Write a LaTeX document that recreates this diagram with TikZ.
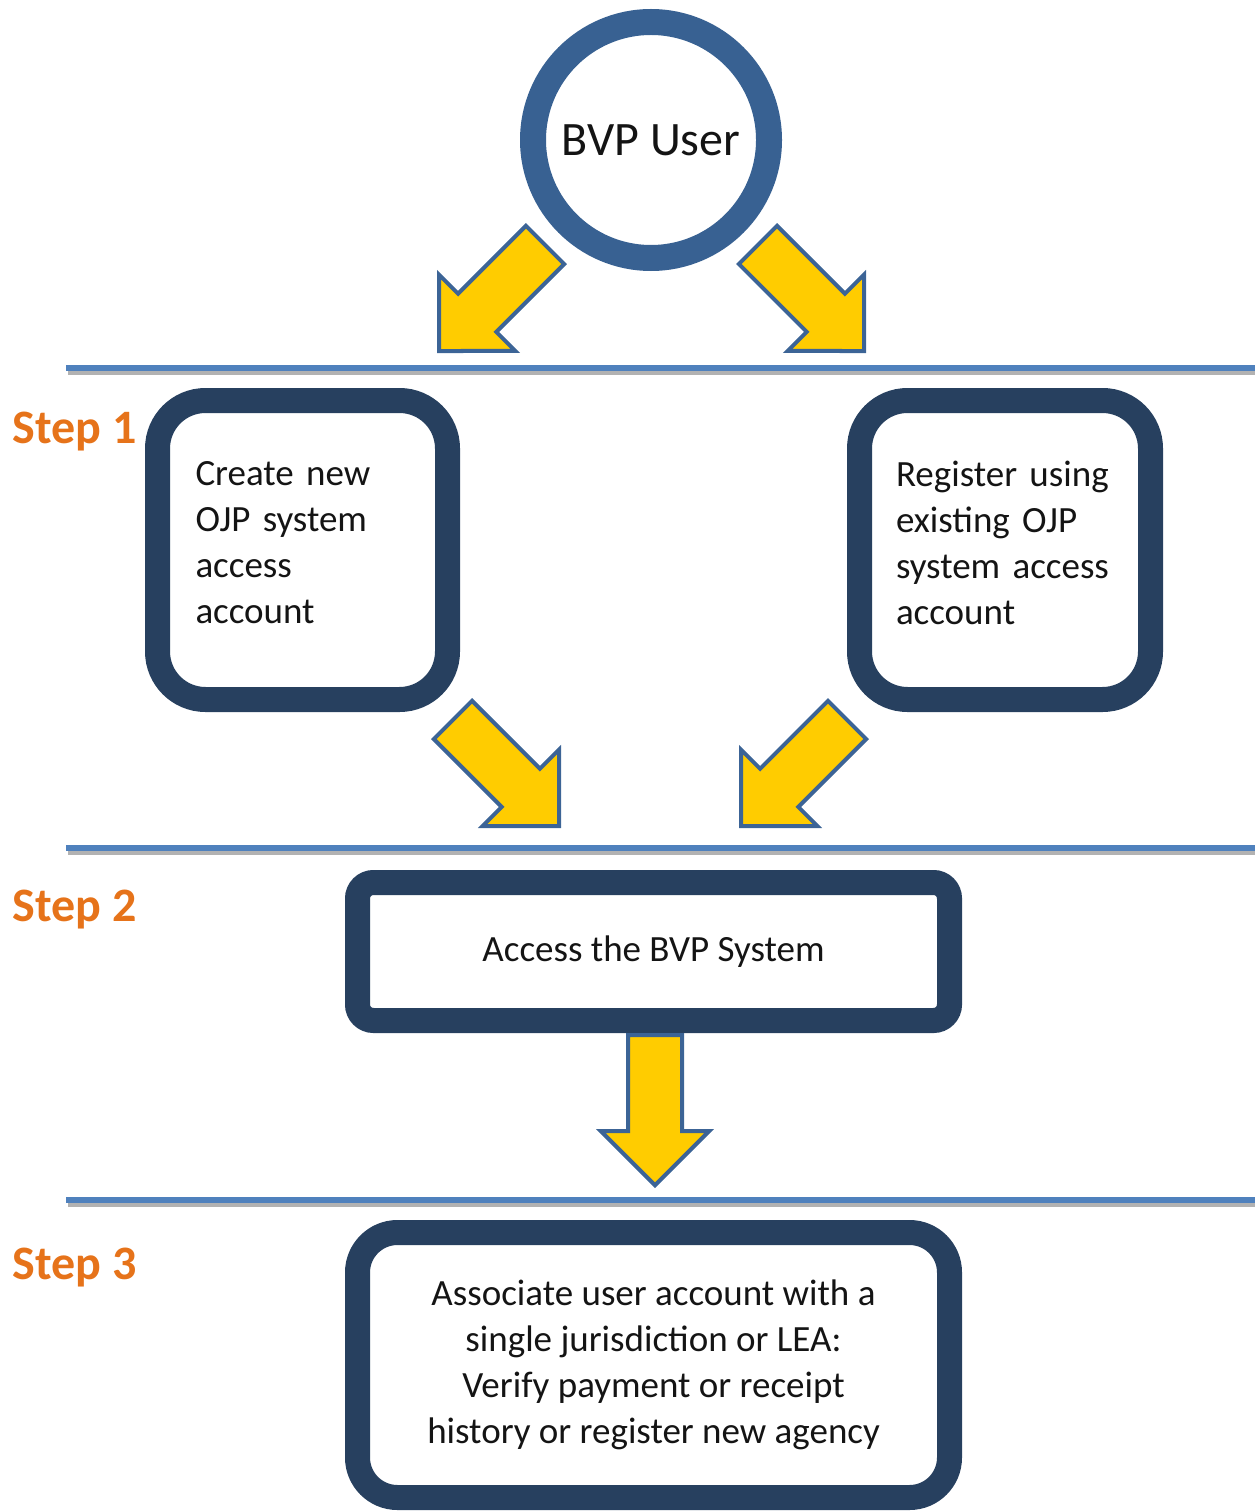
\documentclass[tikz,border=0pt]{standalone}
\usepackage{fontspec}
\setmainfont{Carlito}
\usetikzlibrary{shapes.arrows}
\definecolor{ink}{HTML}{141414}
\definecolor{ringblue}{HTML}{386192}
\definecolor{boxink}{HTML}{27405F}
\definecolor{rule}{HTML}{4F81BD}
\definecolor{shade}{HTML}{8C8C8C}
\definecolor{stepink}{HTML}{E6731A}
\definecolor{gold}{HTML}{FFCC00}
\definecolor{goldrim}{HTML}{3C6496}

\begin{document}
\begin{tikzpicture}[x=1pt,y=-1pt,
  boxframe/.style={draw=boxink,line width=25pt,fill=white,inner sep=0pt},
  boxtext/.style={font=\fontsize{37}{46}\selectfont,text=ink},
  steplabel/.style={font=\fontsize{48}{52}\selectfont\bfseries,text=stepink,anchor=base west},
  rulerline/.style={draw=rule,line width=6pt},
  gobetween/.style={single arrow,draw=goldrim,fill=gold,line width=4pt,
    single arrow tip angle=90,single arrow head extend=27pt,single arrow head indent=0pt,
    inner xsep=0pt,inner ysep=25pt,minimum height=150pt,anchor=tip}]
\useasboundingbox (0,0) rectangle (1255,1511);

% ---------------- L1: rules between the steps ------------------------------
\foreach \y in {368,848,1200}{
  \draw[shade,line width=4pt,opacity=.3] (68,\y+4.5) -- (1255,\y+4.5);
  \draw[rulerline] (66,\y) -- (1255,\y);
}

% ---------------- L2: user and step boxes ----------------------------------
\node[circle,draw=ringblue,line width=26pt,fill=white,minimum size=236pt,inner sep=0pt,
  font=\fontsize{48}{52}\selectfont,text=ink] (user) at (651,140) {BVP User};

\node[steplabel] (step1) at (9,443) {Step 1};
\node[steplabel] (step2) at (9,921) {Step 2};
\node[steplabel] (step3) at (9,1279) {Step 3};

\node[boxframe,rounded corners=48pt,minimum width=290pt,minimum height=299pt] (create) at (302.5,550) {};
\node[boxtext,text width=214pt,align=left,yshift=7pt] (createtext) at (create)
  {Create new\\OJP system\\access\\account};
\node[boxframe,rounded corners=48pt,minimum width=291pt,minimum height=299pt] (register) at (1005,550) {};
\node[boxtext,text width=218pt,align=left,yshift=7pt] (registertext) at (register)
  {Register using\\existing OJP\\system access\\account};

\node[boxframe,boxtext,rounded corners=16pt,minimum width=592pt,minimum height=138pt]
  (access) at (653.5,951.5) {Access the BVP System};

\node[boxframe,boxtext,rounded corners=40pt,minimum width=592pt,minimum height=265pt,
  align=center] (associate) at (653.5,1365)
  {Associate user account with a\\single jurisdiction or LEA:\\Verify payment or receipt\\history or register new agency};

% ---------------- L3: block arrows -----------------------------------------
\node[gobetween,rotate=225] (toleft) at (437,353) {};
\node[gobetween,rotate=315] (toright) at (866,353) {};
\node[gobetween,rotate=315] (fromleft) at (561,828) {};
\node[gobetween,rotate=225] (fromright) at (739,828) {};
\node[gobetween,rotate=270] (tostep3) at (655,1188) {};

\end{tikzpicture}
\end{document}
